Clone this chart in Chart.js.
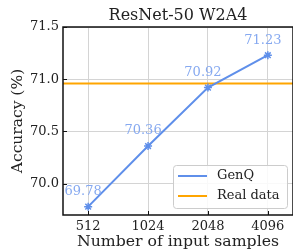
<!DOCTYPE html>
<html>
<head>
<meta charset="utf-8">
<script src="https://cdn.jsdelivr.net/npm/chart.js@4.4.0/dist/chart.umd.min.js"></script>
<style>
  html, body { margin: 0; padding: 0; background: #fff; }
  #wrap { width: 293px; height: 251px; position: relative; }
</style>
</head>
<body>
<div id="wrap"><canvas id="myChart"></canvas></div>
<script>
// chart values
var titleText = 'ResNet-50 W2A4';
var samples = ['512', '1024', '2048', '4096'];
var genqAcc = [69.78, 70.36, 70.92, 71.23];
var realAcc = 70.96;
var yTicks = [70.0, 70.5, 71.0, 71.5];
var yMin = 69.7, yMax = 71.5;
var xMin = -0.42, xMax = 3.42;

var serif = "'DejaVu Serif', serif";
var blue = '#5f8fea';
var labelBlue = '#86a9f0';
var orange = '#ffa500';

var ctx = document.getElementById('myChart');

// title, frame, inward ticks, value labels and legend
var extras = {
    id: 'extras',
    afterDraw: function(chart) {
        var c = chart.ctx, a = chart.chartArea;
        var xs = chart.scales.x, ys = chart.scales.y;
        c.save();
        c.fillStyle = '#222';
        c.font = '16px ' + serif;
        c.textAlign = 'center';
        c.textBaseline = 'middle';
        c.fillText(titleText, (a.left + a.right) / 2, 16);

        c.strokeStyle = '#111';
        c.lineWidth = 1.5;
        c.strokeRect(a.left, a.top, a.right - a.left, a.bottom - a.top);
        c.lineWidth = 1;
        samples.forEach(function(s, i) {
            var px = Math.round(xs.getPixelForValue(i)) + 0.5;
            c.beginPath(); c.moveTo(px, a.bottom); c.lineTo(px, a.bottom - 4); c.stroke();
        });
        yTicks.forEach(function(v) {
            var py = Math.round(ys.getPixelForValue(v)) + 0.5;
            c.beginPath(); c.moveTo(a.left, py); c.lineTo(a.left + 4, py); c.stroke();
        });
        // value labels
        c.fillStyle = labelBlue;
        c.font = '13px ' + serif;
        genqAcc.forEach(function(v, i) {
            c.fillText(v.toFixed(2), xs.getPixelForValue(i) - 5, ys.getPixelForValue(v) - 15);
        });
        // legend
        var lx = 173, ly = 165, lw = 114, lh = 43;
        c.fillStyle = 'rgba(255,255,255,0.85)';
        c.strokeStyle = '#cccccc';
        c.beginPath();
        c.roundRect(lx + 0.5, ly + 0.5, lw, lh, 3);
        c.fill(); c.stroke();
        c.font = '13px ' + serif;
        c.textAlign = 'left';
        chart.data.datasets.forEach(function(ds, i) {
            var yy = ly + 11 + i * 20;
            c.strokeStyle = ds.borderColor;
            c.lineWidth = 2;
            c.beginPath(); c.moveTo(lx + 5, yy); c.lineTo(lx + 34, yy); c.stroke();
            c.fillStyle = '#222';
            c.fillText(ds.label, lx + 44, yy);
        });
        c.restore();
    }
};

var graphData = {
    type: 'line',
    data: {
        datasets: [{
            label: 'GenQ',
            data: genqAcc.map(function(v, i) { return {x: i, y: v}; }),
            borderColor: blue,
            backgroundColor: blue,
            borderWidth: 2,
            pointStyle: 'star',
            pointRadius: 4,
            pointBorderWidth: 1.5,
            order: 1
        }, {
            label: 'Real data',
            data: [{x: xMin, y: realAcc}, {x: xMax, y: realAcc}],
            borderColor: orange,
            backgroundColor: orange,
            borderWidth: 2,
            pointRadius: 0,
            order: 2
        }]
    },
    options: {
        responsive: true,
        maintainAspectRatio: false,
        animation: false,
        layout: { autoPadding: false, padding: { top: 27, right: 0, left: 0, bottom: 0 } },
        plugins: {
            legend: { display: false },
            tooltip: { enabled: false },
            title: { display: false }
        },
        scales: {
            x: {
                type: 'linear',
                min: xMin,
                max: xMax,
                afterBuildTicks: function(scale) {
                    scale.ticks = samples.map(function(s, i) { return {value: i}; });
                },
                afterFit: function(scale) {
                    scale.height = 36;
                    scale.paddingLeft = 0;
                    scale.paddingRight = 0;
                },
                grid: { color: '#d4d4d4', lineWidth: 1, drawTicks: false },
                border: { display: false },
                ticks: {
                    color: '#222',
                    font: { family: serif, size: 13 },
                    padding: 4,
                    maxRotation: 0,
                    callback: function(v) { return samples[v]; }
                },
                title: {
                    display: true,
                    text: 'Number of input samples',
                    color: '#222',
                    font: { family: serif, size: 15.7 },
                    padding: 0
                }
            },
            y: {
                min: yMin,
                max: yMax,
                afterBuildTicks: function(scale) {
                    scale.ticks = yTicks.map(function(v) { return {value: v}; });
                },
                afterFit: function(scale) {
                    scale.width = 63;
                    scale.paddingTop = 0;
                    scale.paddingBottom = 0;
                },
                grid: { color: '#d4d4d4', lineWidth: 1, drawTicks: false },
                border: { display: false },
                ticks: {
                    color: '#222',
                    font: { family: serif, size: 13 },
                    padding: 4,
                    callback: function(v) { return v.toFixed(1); }
                },
                title: {
                    display: true,
                    text: 'Accuracy (%)',
                    color: '#222',
                    font: { family: serif, size: 15.5 },
                    padding: { top: 9, bottom: 0 }
                }
            }
        }
    },
    plugins: [extras]
};

var myChart = new Chart(ctx, graphData);
</script>
</body>
</html>
